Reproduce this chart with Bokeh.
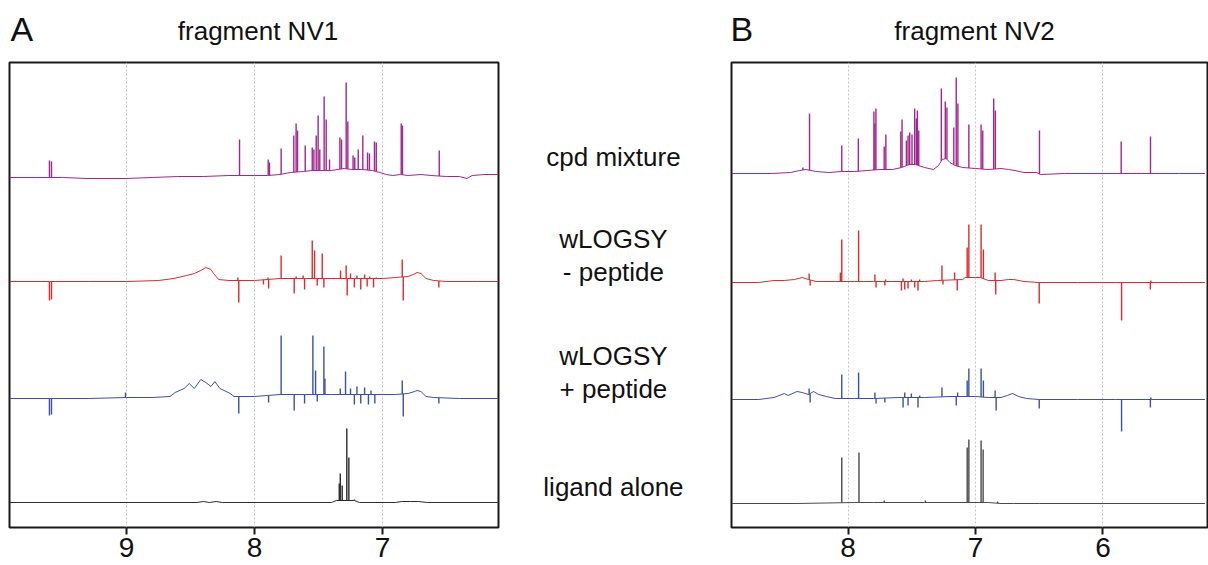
import numpy as np
from bokeh.plotting import figure
from bokeh.models import Range1d, FixedTicker, ColumnDataSource
from bokeh.layouts import row, column
from bokeh.embed import file_html
from bokeh.resources import INLINE
from bokeh.core.properties import value

FONT = "Liberation Sans"

# ---------------- data (ppm, intensity in picture px) ----------------
A_ticks = [9, 8, 7]
B_ticks = [8, 7, 6]
panel_letters = ["A", "B"]
panel_titles = ["fragment NV1", "fragment NV2"]
trace_labels = ["cpd mixture", "wLOGSY", "- peptide", "wLOGSY", "+ peptide", "ligand alone"]

# Panel A: cpd mixture
A_mix_base_ppm = [9.91, 9.70, 9.50, 9.30, 9.00, 8.80, 8.60, 8.40, 8.20, 8.13, 8.00, 7.90, 7.80, 7.72, 7.62, 7.55,
                  7.48, 7.40, 7.30, 7.24, 7.16, 7.08, 7.02, 6.97, 6.92, 6.86, 6.80, 6.70, 6.62, 6.50, 6.40, 6.34,
                  6.30, 6.20, 6.10]
A_mix_base_h = [0, 0, 0, -1, -1, 0, 1, 1, 2, 2, 2, 2, 3, 5, 6, 7, 7, 7, 9, 8, 8, 7, 5, 3, 2, 3, 2, 3, 2, 1, 1, -1,
                2, 3, 3]
A_mix_pk_ppm = [9.602, 9.586, 8.117, 7.893, 7.883, 7.792, 7.693, 7.675, 7.664, 7.604, 7.549, 7.536, 7.518, 7.503,
                7.490, 7.456, 7.440, 7.414, 7.333, 7.320, 7.284, 7.271, 7.230, 7.217, 7.190, 7.154, 7.117, 7.102,
                7.063, 7.049, 6.854, 6.844, 6.557]
A_mix_pk_h = [17, 16, 38, 18, 15, 29, 42, 54, 47, 32, 30, 28, 42, 62, 28, 81, 58, 18, 40, 38, 95, 56, 22, 20, 28,
              42, 25, 24, 36, 35, 54, 52, 27]

# Panel A: wLOGSY - peptide
A_red_base_ppm = [9.91, 9.60, 9.30, 9.00, 8.75, 8.63, 8.53, 8.47, 8.42, 8.38, 8.34, 8.32, 8.28, 8.20, 8.00, 7.90,
                  7.80, 7.60, 7.40, 7.20, 7.00, 6.90, 6.80, 6.76, 6.73, 6.70, 6.66, 6.60, 6.50, 6.30, 6.10]
A_red_base_h = [0, 0, 0, 0, 1, 3, 6, 8, 11, 14, 12, 8, 2, 1, 1, 2, 3, 3, 3, 3, 3, 4, 5, 7, 9, 8, 3, 1, 0, 0, 0]
A_red_pk_ppm = [9.602, 9.586, 8.130, 8.123, 7.930, 7.895, 7.890, 7.792, 7.690, 7.675, 7.620, 7.609, 7.549, 7.531,
                7.510, 7.471, 7.458, 7.328, 7.284, 7.276, 7.250, 7.220, 7.200, 7.170, 7.140, 7.120, 7.100, 7.070,
                7.050, 6.846, 6.838, 6.560]
A_red_pk_h = [-19, -18, 4, -21, -3, 4, -7, 26, -12, 5, 6, -8, 41, 31, -4, 28, -6, 11, 16, -14, 8, -6, 6, -8, 7,
              -5, 5, -6, 4, 22, -19, -6]

# Panel A: wLOGSY + peptide
A_blue_base_ppm = [9.91, 9.60, 9.30, 9.00, 8.80, 8.66, 8.62, 8.55, 8.51, 8.47, 8.42, 8.38, 8.34, 8.31, 8.27, 8.19,
                   8.16, 8.00, 7.90, 7.80, 7.60, 7.40, 7.20, 7.00, 6.90, 6.80, 6.75, 6.73, 6.70, 6.66, 6.60, 6.40,
                   6.10]
A_blue_base_h = [0, 0, 0, 1, 1, 2, 6, 10, 15, 10, 19, 16, 12, 17, 10, 5, 2, 2, 3, 4, 4, 4, 4, 4, 4, 5, 7, 8, 7, 2,
                 1, 0, 0]
A_blue_pk_ppm = [9.602, 9.586, 9.008, 8.123, 7.890, 7.792, 7.690, 7.609, 7.544, 7.523, 7.510, 7.458, 7.450, 7.330,
                 7.289, 7.250, 7.220, 7.200, 7.170, 7.140, 7.110, 7.090, 7.060, 6.846, 6.838, 6.560]
A_blue_pk_h = [-17, -16, 6, -15, -4, 63, -12, -5, 63, 28, -3, 52, 20, 10, 27, 10, -6, 12, -5, 11, -6, 8, -5, 18,
               -18, -5]

# Panel A: ligand alone
A_lig_base_ppm = [9.91, 8.45, 8.40, 8.35, 8.30, 8.25, 7.40, 7.36, 7.22, 7.18, 6.90, 6.85, 6.78, 6.72, 6.65, 6.10]
A_lig_base_h = [0, 0, 1, 0, 1, 0, 0, 2, 2, 0, 0, 1, 1, 1, 0, 0]
A_lig_pk_ppm = [7.338, 7.330, 7.315, 7.279, 7.263, 7.219]
A_lig_pk_h = [19, 29, 17, 74, 45, 3]

# Panel B: cpd mixture
B_mix_base_ppm = [8.91, 8.60, 8.45, 8.38, 8.33, 8.25, 8.15, 8.05, 7.95, 7.85, 7.75, 7.65, 7.58, 7.52, 7.47, 7.40,
                  7.33, 7.29, 7.26, 7.23, 7.20, 7.16, 7.10, 7.00, 6.90, 6.80, 6.74, 6.69, 6.62, 6.52, 6.49, 6.30,
                  6.00, 5.70, 5.40, 5.20]
B_mix_base_h = [0, 0, 1, 3, 4, 2, 1, 2, 2, 3, 4, 4, 6, 9, 9, 6, 4, 8, 14, 15, 11, 8, 6, 5, 4, 5, 4, 3, 1, 1, -1, 0,
                0, 0, 0, 0]
B_mix_pk_ppm = [8.354, 8.302, 8.049, 7.919, 7.797, 7.789, 7.781, 7.716, 7.703, 7.586, 7.576, 7.542, 7.529, 7.516,
                7.498, 7.477, 7.464, 7.456, 7.445, 7.268, 7.237, 7.224, 7.170, 7.151, 7.138, 7.052, 6.956, 6.943,
                6.857, 6.844, 6.498, 5.857, 5.627]
B_mix_pk_h = [6, 60, 28, 35, 62, 50, 65, 27, 39, 42, 54, 33, 38, 41, 39, 65, 55, 63, 43, 85, 72, 66, 46, 96, 70,
              49, 49, 43, 75, 63, 43, 32, 37]

# Panel B: wLOGSY - peptide
B_red_base_ppm = [8.91, 8.70, 8.58, 8.50, 8.42, 8.36, 8.31, 8.25, 8.10, 7.95, 7.80, 7.60, 7.40, 7.30, 7.10, 7.08,
                  7.00, 6.96, 6.90, 6.80, 6.74, 6.70, 6.62, 6.50, 6.20, 5.90, 5.60, 5.40, 5.20]
B_red_base_h = [0, 0, 2, 2, 3, 5, 3, 1, 1, 1, 1, 1, 1, 2, 3, 5, 5, 5, 2, 2, 3, 3, 1, 0, 0, 0, 0, 0, 0]
B_red_pk_ppm = [8.305, 8.297, 8.060, 8.049, 7.917, 7.789, 7.780, 7.711, 7.705, 7.581, 7.568, 7.555, 7.529, 7.503,
                7.477, 7.451, 7.438, 7.263, 7.255, 7.164, 7.143, 7.065, 7.052, 6.956, 6.938, 6.846, 6.841, 6.500,
                5.854, 5.628, 5.624]
B_red_pk_h = [9, -3, 10, 43, 52, 8, -5, -3, 3, -8, 4, -7, -6, 3, -5, -8, 3, 17, -2, 10, -8, 35, 58, 58, 33, 10,
              -12, -21, -38, -7, 2]

# Panel B: wLOGSY + peptide
B_blue_base_ppm = [8.91, 8.70, 8.58, 8.50, 8.47, 8.40, 8.36, 8.31, 8.27, 8.23, 8.17, 8.10, 7.95, 7.80, 7.60, 7.40,
                   7.20, 7.00, 6.90, 6.80, 6.75, 6.71, 6.66, 6.60, 6.50, 6.20, 5.90, 5.60, 5.20]
B_blue_base_h = [0, 0, 2, 6, 4, 8, 7, 5, 8, 5, 3, 1, 1, 1, 2, 2, 3, 3, 2, 2, 4, 6, 3, 1, 0, 0, 0, 0, 0]
B_blue_pk_ppm = [8.305, 8.297, 8.049, 7.917, 7.789, 7.780, 7.711, 7.568, 7.555, 7.529, 7.503, 7.451, 7.438, 7.263,
                 7.151, 7.140, 7.065, 7.052, 6.956, 6.938, 6.846, 6.838, 6.500, 5.854, 5.628, 5.624]
B_blue_pk_h = [11, -3, 25, 27, 7, -4, -3, -8, 7, -6, 6, -8, 4, 12, -6, 7, 19, 31, 31, 19, 9, -11, -9, -32, -8, 2]

# Panel B: ligand alone
B_lig_base_ppm = [8.91, 8.40, 7.95, 7.80, 7.60, 7.40, 7.20, 6.90, 6.80, 6.70, 6.50, 6.00, 5.20]
B_lig_base_h = [0, 0, 1, 1, 1, 1, 1, 1, 0, 0, 0, 0, 0]
B_lig_pk_ppm = [8.049, 7.914, 7.716, 7.393, 7.065, 7.052, 6.956, 6.940, 6.826]
B_lig_pk_h = [46, 51, 3, 3, 56, 64, 63, 54, 2]

# ---------------- layout / style ----------------
HEAD = 54                 # header strip height (letters + titles)
H = 565 - HEAD            # panel figure height
TOP, BOTTOM = 8, 38
Y0, Y1 = 0, 465
A_offsets = [350, 246, 129, 25]
B_offsets = [354, 245, 128, 24]
COLORS = ["#a1268f", "#dc2a2e", "#3d50a3"]
BLACK_A, BLACK_B = "#2b2b2b", "#4a4a4a"


def style_axis(p, ticks, hidden=False):
    tk = FixedTicker(ticks=ticks)
    ax = p.xaxis[0]
    ax.ticker = tk
    ax.axis_line_color = None
    ax.major_tick_in = 0
    ax.major_tick_out = 7
    ax.major_tick_line_width = 2
    ax.major_tick_line_color = None if hidden else "#1a1a1a"
    ax.minor_tick_line_color = None
    ax.major_label_standoff = 3
    ax.major_label_text_font = FONT
    ax.major_label_text_font_size = "28px"
    ax.major_label_text_color = "#111111"
    if hidden:
        ax.major_label_text_alpha = 0
    return tk


def add_trace(p, bx, bh, px, ph, off, color):
    by = [off + h for h in bh]
    p.line(bx, by, line_color=color, line_width=1)
    feet = np.interp(px, bx[::-1], by[::-1])
    tips = [off + h for h in ph]
    p.segment(x0=px, y0=feet, x1=px, y1=tips, line_color=color, line_width=1.4)


def make_panel(xr, ticks, width, bl, br):
    p = figure(width=width, height=H, x_range=Range1d(xr[0], xr[1]), y_range=Range1d(Y0, Y1),
               output_backend="svg", toolbar_location=None, y_axis_location=None,
               min_border_left=bl, min_border_right=br, min_border_top=TOP, min_border_bottom=BOTTOM)
    tk = style_axis(p, ticks)
    p.xgrid.ticker = tk
    p.xgrid.grid_line_color = "#c4c4c4"
    p.xgrid.grid_line_dash = "2 2"
    p.xgrid.grid_line_width = 1
    p.ygrid.visible = False
    p.outline_line_color = "#1a1a1a"
    p.outline_line_width = 2
    p.background_fill_color = "white"
    p.border_fill_color = "white"
    return p


pA = make_panel((9.914, 6.094), A_ticks, 501, 9, 3)
for (bx, bh, px, ph), off, col in zip(
        [(A_mix_base_ppm, A_mix_base_h, A_mix_pk_ppm, A_mix_pk_h),
         (A_red_base_ppm, A_red_base_h, A_red_pk_ppm, A_red_pk_h),
         (A_blue_base_ppm, A_blue_base_h, A_blue_pk_ppm, A_blue_pk_h),
         (A_lig_base_ppm, A_lig_base_h, A_lig_pk_ppm, A_lig_pk_h)],
        A_offsets, COLORS + [BLACK_A]):
    add_trace(pA, bx, bh, px, ph, off, col)

pB = make_panel((8.914, 5.172), B_ticks, 479, 2, 0)
for (bx, bh, px, ph), off, col in zip(
        [(B_mix_base_ppm, B_mix_base_h, B_mix_pk_ppm, B_mix_pk_h),
         (B_red_base_ppm, B_red_base_h, B_red_pk_ppm, B_red_pk_h),
         (B_blue_base_ppm, B_blue_base_h, B_blue_pk_ppm, B_blue_pk_h),
         (B_lig_base_ppm, B_lig_base_h, B_lig_pk_ppm, B_lig_pk_h)],
        B_offsets, COLORS + [BLACK_B]):
    add_trace(pB, bx, bh, px, ph, off, col)

# middle labels
pM = figure(width=228, height=H, x_range=Range1d(0, 1), y_range=Range1d(Y0, Y1),
            output_backend="svg", toolbar_location=None, y_axis_location=None,
            min_border_left=0, min_border_right=0, min_border_top=TOP, min_border_bottom=BOTTOM)
style_axis(pM, [0.5], hidden=True)
pM.grid.visible = False
pM.outline_line_color = None
label_y = [371, 289, 256, 172, 139, 41]
src = ColumnDataSource(dict(x=[0.491] * len(trace_labels), y=label_y, t=trace_labels))
pM.text(x="x", y="y", text="t", source=src, text_font=value(FONT), text_font_size="26px",
        text_color="#111111", text_align="center", text_baseline="alphabetic")

# header strip: panel letters and titles
hd = figure(width=1208, height=HEAD, x_range=Range1d(0, 1208), y_range=Range1d(HEAD, 0),
            output_backend="svg", toolbar_location=None, x_axis_location=None, y_axis_location=None,
            min_border=0)
hd.grid.visible = False
hd.outline_line_color = None
letter_src = ColumnDataSource(dict(x=[10, 730], y=[28, 28], t=panel_letters))
title_src = ColumnDataSource(dict(x=[257.5, 974], y=[30, 30], t=panel_titles))
hd.text(x="x", y="y", text="t", source=letter_src, text_font=value(FONT), text_font_size="34px",
        text_color="#111111", text_align="left", text_baseline="alphabetic")
hd.text(x="x", y="y", text="t", source=title_src, text_font=value(FONT), text_font_size="26px",
        text_color="#111111", text_align="center", text_baseline="alphabetic")

layout = column(hd, row(pA, pM, pB))
open("out.html", "w").write(file_html(layout, INLINE))
